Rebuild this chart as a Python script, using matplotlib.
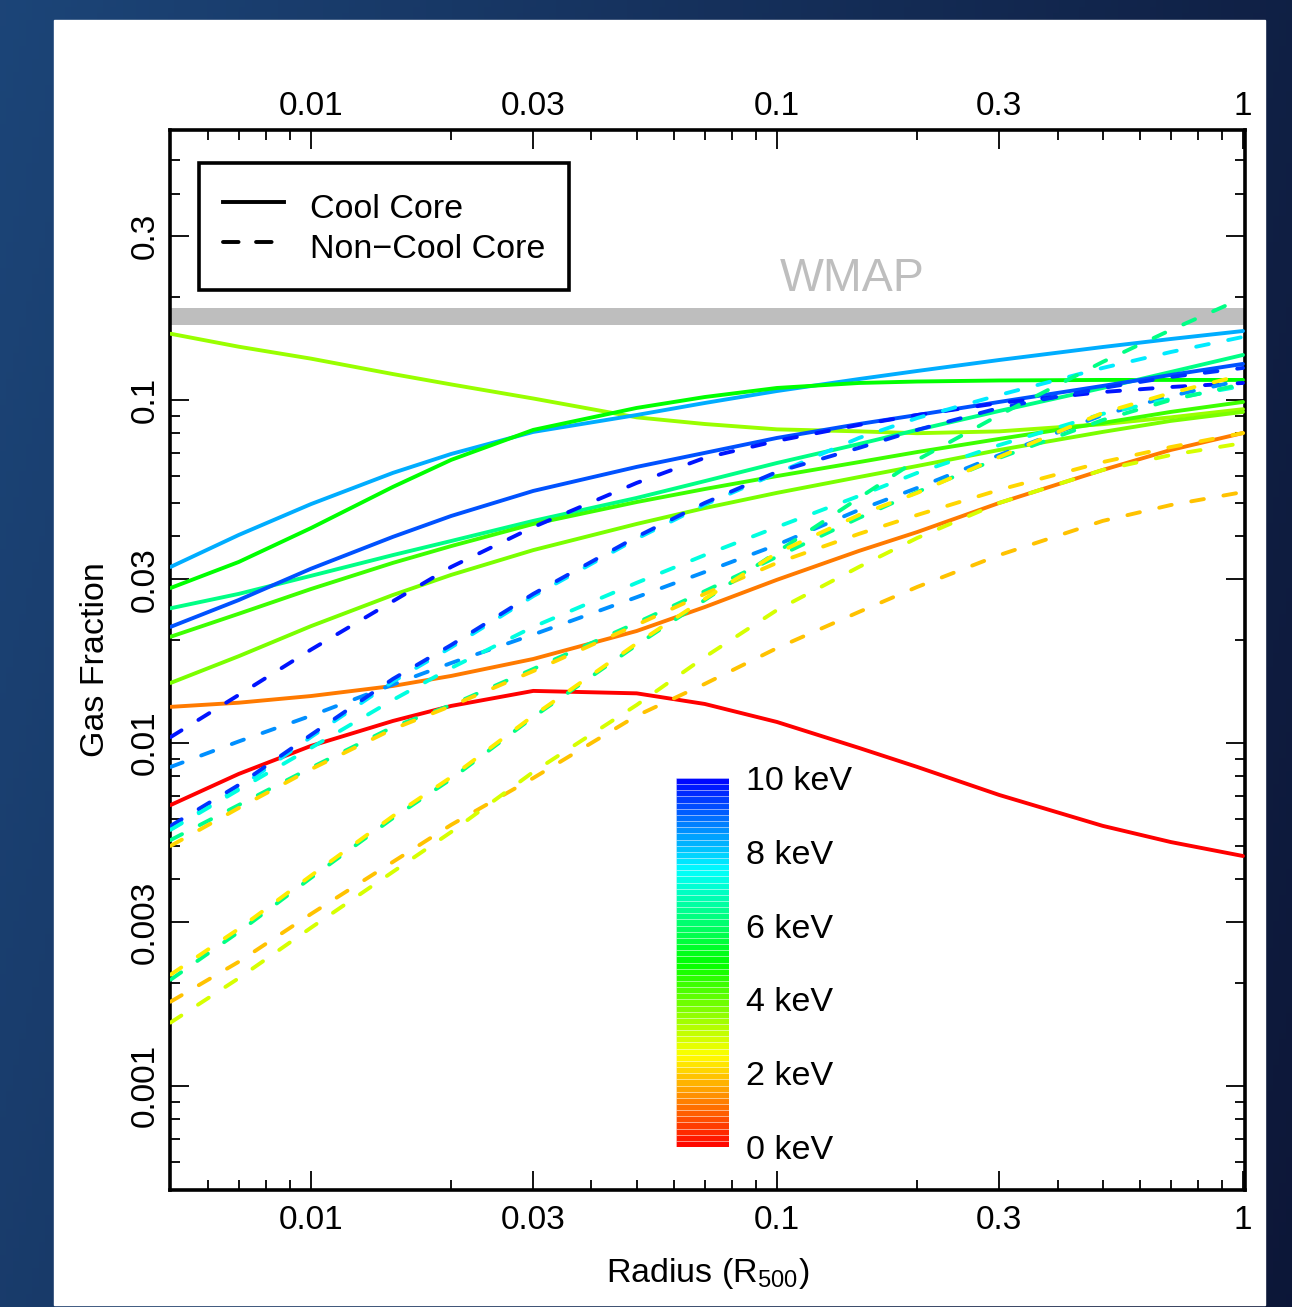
import numpy as np
import matplotlib
matplotlib.use("Agg")
import matplotlib.pyplot as plt
from matplotlib.colors import hsv_to_rgb
from matplotlib.lines import Line2D
from matplotlib.patches import Rectangle
from matplotlib.ticker import NullFormatter

plt.rcParams['font.family'] = ['Liberation Sans', 'DejaVu Sans']
plt.rcParams['mathtext.fontset'] = 'custom'
plt.rcParams['mathtext.rm'] = 'Liberation Sans'

# radius grid (R500) shared by every profile
radius = [0.005, 0.007, 0.01, 0.015, 0.02, 0.03, 0.05, 0.07, 0.1, 0.15, 0.2, 0.3, 0.5, 0.7, 1.0]

# cool core gas fraction profiles (solid), named by temperature in keV
cc_t35 = [0.156, 0.143, 0.132, 0.119, 0.111, 0.101, 0.089, 0.0851, 0.0821, 0.081, 0.080, 0.081, 0.085, 0.089, 0.094]
cc_t83 = [0.0326, 0.0404, 0.0497, 0.0613, 0.0696, 0.0807, 0.0904, 0.098, 0.1062, 0.1151, 0.1215, 0.1308, 0.1427, 0.1506, 0.1589]
cc_t50 = [0.0283, 0.0337, 0.0423, 0.0558, 0.0669, 0.0818, 0.0948, 0.102, 0.1084, 0.1121, 0.1132, 0.114, 0.1144, 0.1144, 0.1144]
cc_t63 = [0.0247, 0.0272, 0.0307, 0.0353, 0.0388, 0.0444, 0.0518, 0.0580, 0.0655, 0.0744, 0.0818, 0.0929, 0.1084, 0.1207, 0.1353]
cc_t92 = [0.0218, 0.0261, 0.0322, 0.0399, 0.0459, 0.0543, 0.0638, 0.0701, 0.0775, 0.0851, 0.0904, 0.0987, 0.1099, 0.1183, 0.1274]
cc_t44 = [0.0204, 0.0238, 0.0281, 0.0335, 0.0375, 0.0435, 0.0504, 0.055, 0.060, 0.0659, 0.0705, 0.077, 0.0857, 0.0923, 0.0987]
cc_t38 = [0.01496, 0.0179, 0.0219, 0.027, 0.0309, 0.0365, 0.0435, 0.0484, 0.0536, 0.0596, 0.0642, 0.0715, 0.0807, 0.0869, 0.0923]
cc_t12 = [0.01274, 0.0131, 0.0137, 0.01466, 0.01568, 0.01757, 0.0212, 0.0249, 0.0299, 0.0363, 0.0412, 0.0501, 0.0625, 0.0715, 0.0801]
cc_t00 = [0.00659, 0.00812, 0.0098, 0.01159, 0.01282, 0.01418, 0.01395, 0.01299, 0.01151, 0.00967, 0.00851, 0.00705, 0.00573, 0.00514, 0.00468]

# non-cool core profiles (dashed)
ncc_t98 = [0.0104, 0.0138, 0.0187, 0.0259, 0.0326, 0.0426, 0.0573, 0.0678, 0.0760, 0.0846, 0.0904, 0.098, 0.1055, 0.1091, 0.1121]
ncc_t86 = [0.00851, 0.0101, 0.0120, 0.0148, 0.0171, 0.0207, 0.0266, 0.0315, 0.0378, 0.0478, 0.0554, 0.0691, 0.0904, 0.1027, 0.1144]
ncc_t95 = [0.00573, 0.00754, 0.01055, 0.01537, 0.0193, 0.0272, 0.0399, 0.0501, 0.0617, 0.0725, 0.0818, 0.0948, 0.1084, 0.1167, 0.124]
ncc_t77 = [0.0056, 0.00738, 0.0104, 0.0151, 0.019, 0.0268, 0.0394, 0.0495, 0.0612, 0.0775, 0.0886, 0.1034, 0.124, 0.138, 0.1527]
ncc_t72 = [0.00558, 0.0073, 0.00967, 0.01335, 0.01654, 0.0218, 0.0293, 0.0353, 0.0426, 0.0525, 0.0613, 0.0739, 0.0911, 0.1007, 0.1099]
ncc_t64 = [0.00521, 0.00659, 0.00846, 0.01113, 0.0129, 0.01643, 0.0224, 0.0277, 0.0349, 0.0453, 0.0539, 0.0678, 0.0874, 0.100, 0.1113]
ncc_t21 = [0.00501, 0.00646, 0.00838, 0.01098, 0.01282, 0.0162, 0.0221, 0.0272, 0.0335, 0.0407, 0.0462, 0.0547, 0.0659, 0.0729, 0.0801]
ncc_t63 = [0.00204, 0.00281, 0.00404, 0.00604, 0.00785, 0.0119, 0.0193, 0.0261, 0.036, 0.0518, 0.0669, 0.0904, 0.1291, 0.16, 0.1983]
ncc_t23 = [0.00211, 0.00287, 0.0041, 0.00612, 0.00795, 0.012, 0.0195, 0.0263, 0.0358, 0.0462, 0.0536, 0.0682, 0.0917, 0.1048, 0.1183]
ncc_t19 = [0.00176, 0.0023, 0.00317, 0.0045, 0.00577, 0.0079, 0.012, 0.01486, 0.0189, 0.0241, 0.0285, 0.0353, 0.0444, 0.0494, 0.0539]
ncc_t29 = [0.00153, 0.00206, 0.00289, 0.00421, 0.0055, 0.00823, 0.0129, 0.0178, 0.0244, 0.0326, 0.0396, 0.0501, 0.0625, 0.0691, 0.0749]

cool_core = [(3.5, cc_t35), (8.3, cc_t83), (5.0, cc_t50), (6.3, cc_t63), (9.2, cc_t92),
             (4.4, cc_t44), (3.8, cc_t38), (1.2, cc_t12), (0.0, cc_t00)]
non_cool_core = [(9.8, ncc_t98), (8.6, ncc_t86), (7.7, ncc_t77), (9.5, ncc_t95), (7.2, ncc_t72),
                 (6.4, ncc_t64), (2.1, ncc_t21), (6.3, ncc_t63), (2.3, ncc_t23), (1.9, ncc_t19), (2.9, ncc_t29)]

# WMAP baryon fraction band
wmap_lo, wmap_hi = 0.165, 0.185

# axis ticks
x_major = [0.01, 0.03, 0.1, 0.3, 1]
x_labels = ['0.01', '0.03', '0.1', '0.3', '1']
y_major = [0.001, 0.003, 0.01, 0.03, 0.1, 0.3]
y_labels = ['0.001', '0.003', '0.01', '0.03', '0.1', '0.3']
cbar_labels = [0, 2, 4, 6, 8, 10]


def temp_color(t):
    # rainbow: 0 keV red -> 10 keV blue
    return hsv_to_rgb([min(t / 15.0, 0.667), 1.0, 1.0])


fig = plt.figure(figsize=(12.92, 13.07), dpi=100)

# dark blue slide background with white panel
bg = fig.add_axes([0, 0, 1, 1], zorder=-10)
gx, gy = np.meshgrid(np.linspace(0, 1, 200), np.linspace(0, 1, 200))
tt = 0.8 * gx + 0.2 * gy
c0 = np.array([0.11, 0.27, 0.47])
c1 = np.array([0.05, 0.09, 0.22])
bg.imshow(c0 * (1 - tt[..., None]) + c1 * tt[..., None], extent=(0, 1, 0, 1), aspect='auto', origin='upper')
bg.add_patch(Rectangle((54 / 1292, 2 / 1307), 1211 / 1292, 1285 / 1307, color='white', transform=bg.transAxes))
bg.set_xlim(0, 1)
bg.set_ylim(0, 1)
bg.axis('off')

ax = fig.add_axes([170 / 1292, 117 / 1307, 1075 / 1292, 1060 / 1307])
ax.set_xscale('log')
ax.set_yscale('log')
ax.set_xlim(0.004985, 1.01)
ax.set_ylim(0.000497, 0.6127)

ax.axhspan(wmap_lo, wmap_hi, color='#bebebe', lw=0, zorder=1)
ax.text(0.145, 0.226, 'WMAP', color='#bebebe', fontsize=33.5, ha='center', va='center')

for t, f in cool_core:
    ax.plot(radius, f, color=temp_color(t), lw=2.8, solid_capstyle='round', solid_joinstyle='round', zorder=3)
for t, f in non_cool_core:
    ax.plot(radius, f, color=temp_color(t), lw=2.8, dashes=(3.3, 5.1), dash_capstyle='round', zorder=3)

# ticks
ax.set_xticks(x_major, labels=x_labels)
ax.set_xticks([d * m for d in (0.001, 0.01, 0.1) for m in range(2, 10) if 0.005 < d * m < 1 and d * m not in (0.03, 0.3)], minor=True)
ax.set_yticks(y_major, labels=y_labels)
ax.set_yticks([d * m for d in (0.0001, 0.001, 0.01, 0.1) for m in range(2, 10) if 0.0005 < d * m < 0.6 and round(d * m, 6) not in (0.003, 0.03, 0.3)], minor=True)
ax.xaxis.set_minor_formatter(NullFormatter())
ax.yaxis.set_minor_formatter(NullFormatter())
ax.tick_params(which='both', direction='in', top=True, right=True, labeltop=True, width=1.3, labelsize=24)
ax.tick_params(axis='x', which='major', pad=11)
ax.tick_params(axis='y', which='major', pad=7)
ax.tick_params(which='major', length=14)
ax.tick_params(which='minor', length=7)
plt.setp(ax.get_yticklabels(), rotation=90, va='center')
plt.setp([tk.label2 for tk in ax.xaxis.get_major_ticks()], va='baseline')
for s in ax.spines.values():
    s.set_linewidth(2.6)

ax.set_xlabel('Radius (R$_{\\rm 500}$)', fontsize=24.5, labelpad=14)
ax.set_ylabel('Gas Fraction', fontsize=24.5, labelpad=13)

handles = [Line2D([0], [0], color='k', lw=2.8),
           Line2D([0], [0], color='k', lw=2.8, dashes=(4.0, 4.5), dash_capstyle='round')]
leg = ax.legend(handles=handles, labels=['Cool Core', 'Non\u2212Cool Core'], loc='upper left',
                bbox_to_anchor=(0.027, 0.9689), borderaxespad=0, fontsize=24.5, frameon=True,
                fancybox=False, edgecolor='k', framealpha=1, borderpad=0.7, handlelength=1.8,
                handletextpad=0.75, handleheight=1.42, labelspacing=0.0)
leg.get_frame().set_linewidth(2.6)

# temperature colour bar
cax = fig.add_axes([676 / 1292, 160 / 1307, 53 / 1292, 369 / 1307])
n_strip = 60
step = 10.0 / n_strip
edges = np.arange(n_strip) * step
cax.barh(edges, 1, height=step, align='edge', color=[temp_color(e + step / 2) for e in edges],
         edgecolor=(1, 1, 1, 0.35), linewidth=0.6)
cax.set_xlim(0, 1)
cax.set_ylim(0, 10)
cax.axis('off')
for v in cbar_labels:
    cax.text(1.32, v, f'{v} keV', transform=cax.get_yaxis_transform(), va='center_baseline', ha='left', fontsize=24.5)

fig.savefig('out.png', dpi=100)
